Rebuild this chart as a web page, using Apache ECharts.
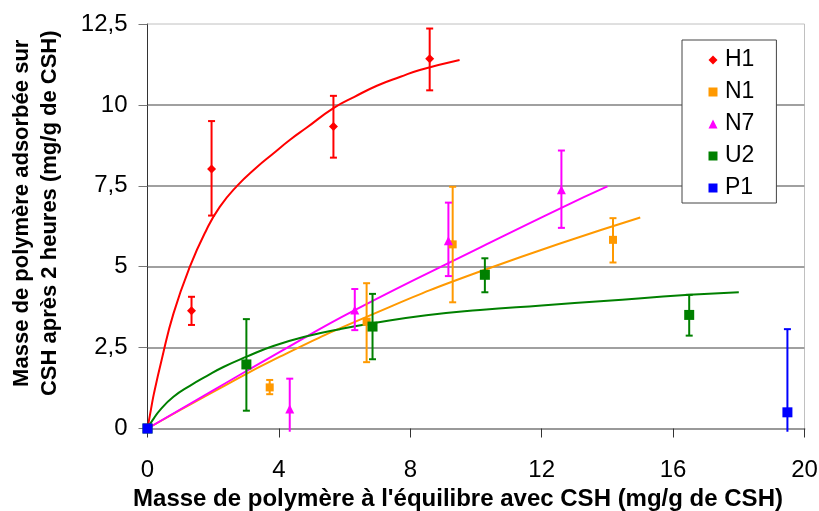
<!DOCTYPE html>
<html>
<head>
<meta charset="utf-8">
<script src="https://cdn.jsdelivr.net/npm/echarts@6/dist/echarts.min.js"></script>
<style>
html,body{margin:0;padding:0;background:#fff;}
#chart{width:819px;height:511px;}
</style>
</head>
<body>
<div id="chart"></div>
<script>
// ---- Data ----
var seriesNames = ['H1', 'N1', 'N7', 'U2', 'P1'];
var xTicks = [0, 4, 8, 12, 16, 20];
var yTicks = ['0', '2,5', '5', '7,5', '10', '12,5'];

// measured points [x, y]
var h1Points = [[0, 0], [1.34, 3.64], [1.95, 8.02], [5.66, 9.33], [8.59, 11.43]];
var n1Points = [[0, 0], [3.72, 1.27], [6.67, 3.3], [9.29, 5.69], [14.17, 5.83]];
var n7Points = [[0, 0], [4.33, 0.6], [6.31, 3.66], [9.16, 5.8], [12.6, 7.38]];
var u2Points = [[0, 0], [3.01, 1.98], [6.85, 3.15], [10.27, 4.75], [16.49, 3.51]];
var p1Points = [[0, 0], [19.48, 0.5]];

// error bars [x, low, high]
var h1Err = [[1.34, 3.2, 4.07], [1.95, 6.58, 9.5], [5.66, 8.37, 10.28], [8.59, 10.45, 12.36]];
var n1Err = [[3.72, 1.06, 1.5], [6.67, 2.05, 4.49], [9.29, 3.9, 7.47], [14.17, 5.13, 6.5]];
var n7Err = [[4.33, -0.1, 1.54], [6.31, 3.04, 4.31], [9.16, 4.71, 6.98], [12.6, 6.2, 8.59]];
var u2Err = [[3.01, 0.55, 3.38], [6.85, 2.14, 4.16], [10.27, 4.21, 5.26], [16.49, 2.87, 4.13]];
var p1Err = [[19.48, -0.1, 3.07]];

// fitted curves [x, y]
var h1Fit = [[0, 0], [0.1, 0.56], [0.2, 1.1], [0.43, 2.12], [0.79, 3.55], [1.29, 5.0], [1.8, 6.15], [2.2, 6.85], [2.72, 7.49], [3.3, 8.05], [3.83, 8.5], [4.35, 8.93], [4.85, 9.3], [5.66, 9.9], [6.3, 10.25], [7.0, 10.6], [7.7, 10.87], [8.29, 11.08], [9.5, 11.39]];
var n1Fit = [[0, 0], [2, 1.13], [4.03, 2.22], [6.67, 3.45], [10.12, 4.85], [15, 6.52]];
var n7Fit = [[0, 0], [2, 1.18], [4.03, 2.37], [6.31, 3.66], [10.12, 5.59], [12.6, 6.82], [14, 7.48]];
var u2Fit = [[0, 0], [0.15, 0.25], [0.38, 0.57], [0.79, 0.98], [1.29, 1.32], [1.8, 1.62], [2.31, 1.9], [3.02, 2.22], [3.83, 2.55], [4.85, 2.85], [5.86, 3.07], [6.85, 3.25], [8.49, 3.5], [10.12, 3.66], [12, 3.8], [14, 3.95], [16.49, 4.13], [18, 4.21]];

// ---- Styling ----
var colors = { H1: '#FF0000', N1: '#FF9900', N7: '#FF00FF', U2: '#008000', P1: '#0000FF' };
var FONT = '"Liberation Sans", Arial, sans-serif';

function errRender(color) {
  return function (params, api) {
    var x = api.value(0), lo = api.value(1), hi = api.value(2);
    var pLo = api.coord([x, lo]);
    var pHi = api.coord([x, hi]);
    var cap = 3.5;
    var st = { stroke: color, lineWidth: 2 };
    var children = [
      { type: 'line', shape: { x1: pLo[0], y1: pLo[1], x2: pHi[0], y2: pHi[1] }, style: st },
      { type: 'line', shape: { x1: pHi[0] - cap, y1: pHi[1], x2: pHi[0] + cap, y2: pHi[1] }, style: st }
    ];
    if (lo >= 0) {
      children.push({ type: 'line', shape: { x1: pLo[0] - cap, y1: pLo[1], x2: pLo[0] + cap, y2: pLo[1] }, style: st });
    }
    return { type: 'group', children: children };
  };
}

function fitSeries(name, data, color) {
  return {
    name: name + ' fit', type: 'line', data: data, showSymbol: false, symbol: 'none',
    smooth: 0.5, lineStyle: { color: color, width: 2 }, z: 2, silent: true
  };
}
function errSeries(name, data, color) {
  return {
    name: name + ' err', type: 'custom', data: data, renderItem: errRender(color),
    encode: { x: 0, y: [1, 2] }, clip: false, z: 3, silent: true
  };
}
function ptSeries(name, data, symbol, size) {
  return {
    name: name, type: 'scatter', data: data, symbol: symbol, symbolSize: size,
    itemStyle: { color: colors[name], opacity: 1 }, z: 5
  };
}

var chart = echarts.init(document.getElementById('chart'), null, { renderer: 'canvas' });
chart.setOption({
  animation: false,
  backgroundColor: '#fff',
  grid: {
    left: 147.5, right: 14.5, top: 24, bottom: 82.5,
    outerBoundsMode: 'none', containLabel: false,
    show: true, borderColor: '#c0c0c0', borderWidth: 1
  },
  legend: {
    data: seriesNames, orient: 'vertical', left: 682, top: 40,
    padding: [8, 22, 3, 26.5], itemWidth: 9, itemHeight: 9, itemGap: 8,
    backgroundColor: '#fff', borderColor: '#444', borderWidth: 1,
    textStyle: { fontSize: 23, lineHeight: 24, fontFamily: FONT, color: '#000', padding: [0, 0, 0, 2.5] },
    selectedMode: false
  },
  xAxis: {
    type: 'value', min: 0, max: 20, interval: 4,
    name: "Masse de polymère à l'équilibre avec CSH (mg/g de CSH)",
    nameLocation: 'middle', nameGap: 57,
    nameTextStyle: { fontSize: 24, fontWeight: 'bold', fontFamily: FONT, color: '#000', padding: [0, 36, 0, 0] },
    axisLine: { show: true, onZero: false, lineStyle: { color: '#999', width: 2 } },
    axisTick: { show: true, length: 9, lineStyle: { color: '#333' } },
    axisLabel: { fontSize: 24, fontFamily: FONT, color: '#000', margin: 30,
      formatter: function (v) { return xTicks.indexOf(v) >= 0 ? String(v) : ''; } },
    splitLine: { show: false }
  },
  yAxis: {
    type: 'value', min: 0, max: 12.5, interval: 2.5,
    name: 'Masse de polymère adsorbée sur\nCSH après 2 heures (mg/g de CSH)',
    nameLocation: 'middle', nameRotate: 90, nameGap: 84,
    nameTextStyle: { fontSize: 22, fontWeight: 'bold', fontFamily: FONT, color: '#000', lineHeight: 28, padding: [0, 0, 0, 26] },
    axisLine: { show: true, lineStyle: { color: '#333', width: 1 } },
    axisTick: { show: true, length: 9, lineStyle: { color: '#777' } },
    axisLabel: { fontSize: 24, fontFamily: FONT, color: '#000', margin: 20,
      formatter: function (v) { return yTicks[Math.round(v / 2.5)]; } },
    splitLine: { show: true, showMaxLine: false, lineStyle: { color: '#a0a0a0', width: 2 } }
  },
  series: [
    fitSeries('H1', h1Fit, colors.H1),
    fitSeries('N1', n1Fit, colors.N1),
    fitSeries('N7', n7Fit, colors.N7),
    fitSeries('U2', u2Fit, colors.U2),
    errSeries('H1', h1Err, colors.H1),
    errSeries('N1', n1Err, colors.N1),
    errSeries('N7', n7Err, colors.N7),
    errSeries('U2', u2Err, colors.U2),
    errSeries('P1', p1Err, colors.P1),
    ptSeries('H1', h1Points, 'diamond', 9),
    ptSeries('N1', n1Points, 'rect', 8),
    ptSeries('N7', n7Points, 'triangle', 9),
    ptSeries('U2', u2Points, 'rect', 10),
    ptSeries('P1', p1Points, 'rect', 10)
  ]
});
</script>
</body>
</html>
